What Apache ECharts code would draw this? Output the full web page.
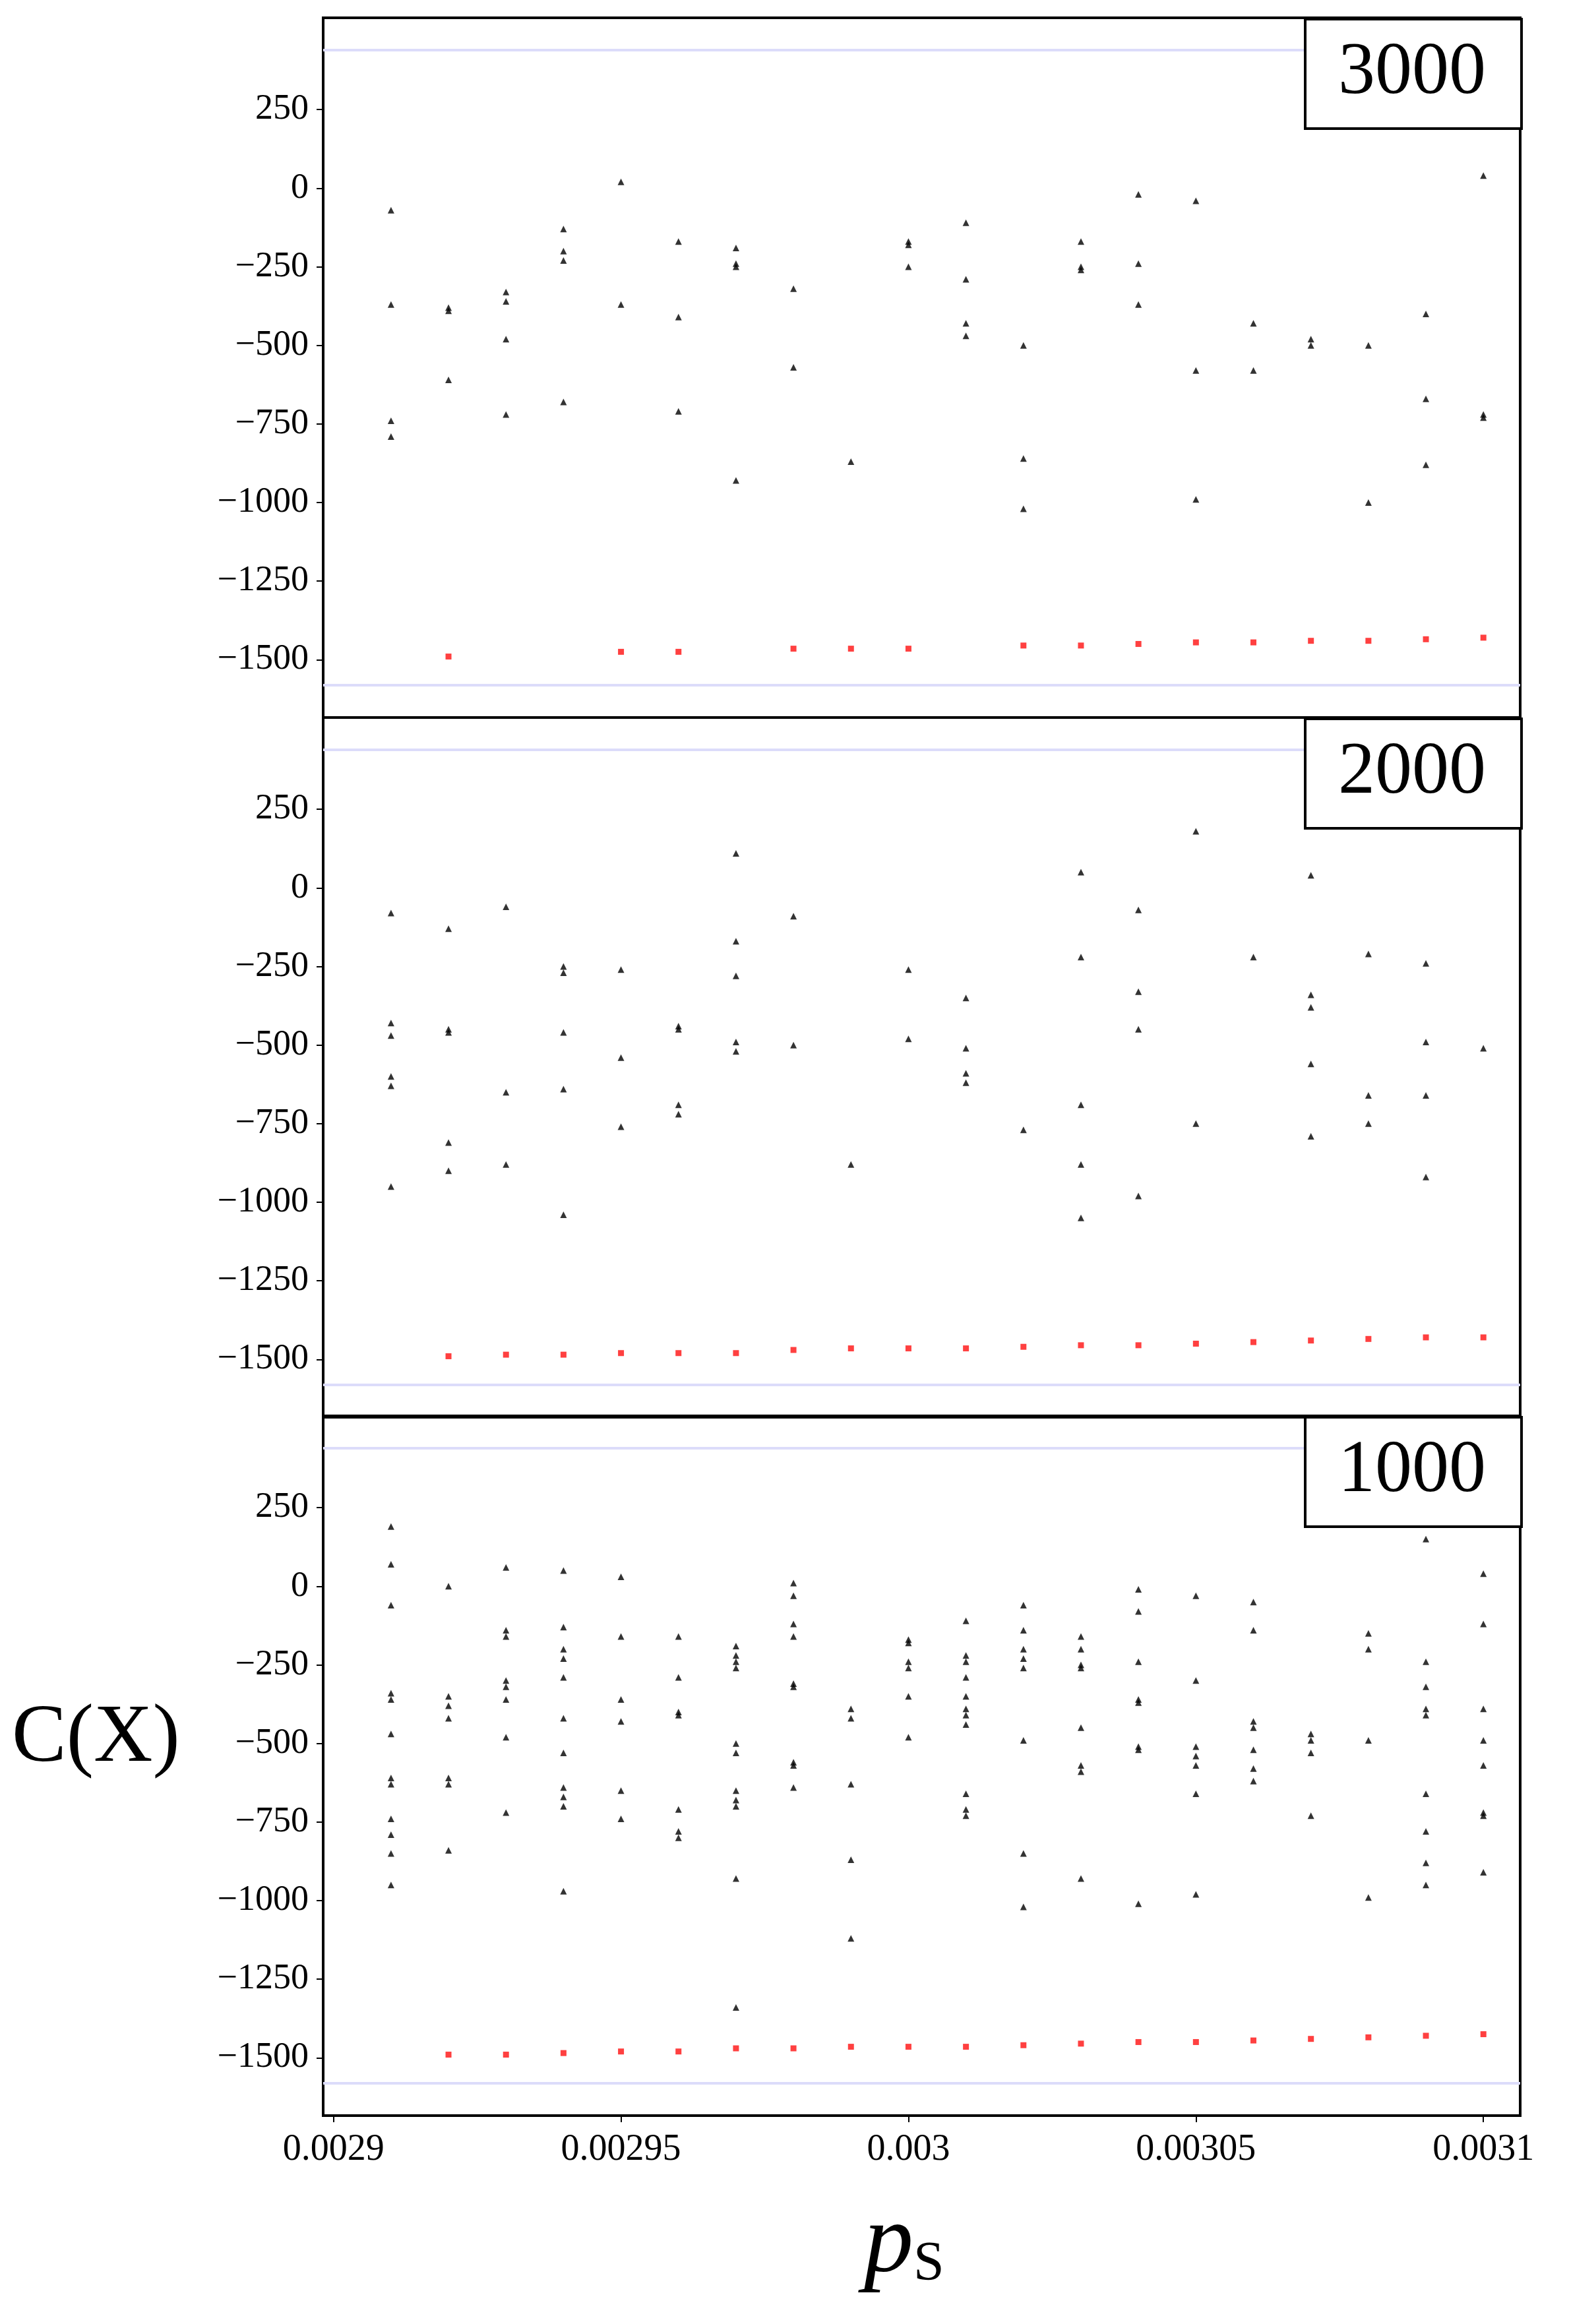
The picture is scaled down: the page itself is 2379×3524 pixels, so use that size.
<!DOCTYPE html>
<html><head><meta charset="utf-8">
<script src="https://cdn.jsdelivr.net/npm/echarts@6/dist/echarts.min.js"></script>
<style>html,body{margin:0;background:#fff}#c{width:2379px;height:3524px}</style>
</head><body><div id="c"></div>
<script>
// x positions of the sampled p_s values
let xValues = [0.00291, 0.00292, 0.00293, 0.00294, 0.00295, 0.00296, 0.00297, 0.00298, 0.00299, 0.00300,
               0.00301, 0.00302, 0.00303, 0.00304, 0.00305, 0.00306, 0.00307, 0.00308, 0.00309, 0.00310];
let panelLabels = ['3000', '2000', '1000'];
let xTickValues = [0.0029, 0.00295, 0.003, 0.00305, 0.0031];
let xTickLabels = ['0.0029', '0.00295', '0.003', '0.00305', '0.0031'];
let yTickValues = [-1500, -1250, -1000, -750, -500, -250, 0, 250];
let refLines = [440, -1580];

// black points: one list per x position
let black3000 = [
  [-70, -370, -740, -790], [-380, -390, -610], [-330, -360, -480, -720], [-130, -200, -230, -680],
  [20, -370], [-170, -410, -710], [-190, -240, -250, -930], [-320, -570], [-870], [-170, -180, -250],
  [-110, -290, -430, -470], [-500, -860, -1020], [-170, -250, -260], [-20, -240, -370], [-40, -580, -990],
  [-430, -580], [-480, -500], [-500, -1000], [-400, -670, -880], [40, -720, -730]
];
let black2000 = [
  [-80, -430, -470, -600, -630, -950], [-130, -450, -460, -810, -900], [-60, -650, -880],
  [-250, -270, -460, -640, -1040], [-260, -540, -760], [-440, -450, -690, -720], [110, -170, -280, -490, -520],
  [-90, -500], [-880], [-260, -480], [-350, -510, -590, -620], [-770], [50, -220, -690, -880, -1050],
  [-70, -330, -450, -980], [180, -750], [-220], [40, -340, -380, -560, -790], [-210, -660, -750],
  [-240, -490, -660, -920], [-510]
];
let black1000 = [
  [190, 70, -60, -340, -360, -470, -610, -630, -740, -790, -850, -950],
  [0, -350, -380, -420, -610, -630, -840],
  [60, -140, -160, -300, -320, -360, -480, -720],
  [50, -130, -200, -230, -290, -420, -530, -640, -670, -700, -970],
  [30, -160, -360, -430, -650, -740],
  [-160, -290, -400, -410, -710, -780, -800],
  [-190, -220, -240, -260, -500, -530, -650, -680, -700, -930, -1340],
  [10, -30, -120, -160, -310, -320, -560, -570, -640],
  [-390, -420, -630, -870, -1120],
  [-170, -180, -240, -260, -350, -480],
  [-110, -220, -240, -290, -350, -390, -410, -440, -660, -710, -730],
  [-60, -140, -200, -230, -260, -490, -850, -1020],
  [-160, -200, -250, -260, -450, -570, -590, -930],
  [-10, -80, -240, -360, -370, -510, -520, -1010],
  [-30, -300, -510, -540, -570, -660, -980],
  [-50, -140, -430, -450, -520, -580, -620],
  [-470, -490, -530, -730],
  [-150, -200, -490, -990],
  [150, -240, -320, -390, -410, -660, -780, -880, -950],
  [40, -120, -390, -490, -570, -720, -730, -910]
];

// red points: null where absent
let red3000 = [null, -1490, null, null, -1475, -1475, null, -1465, -1465, -1465,
               null, -1455, -1455, -1450, -1445, -1445, -1440, -1440, -1435, -1430];
let red2000 = [null, -1490, -1485, -1485, -1480, -1480, -1480, -1470, -1465, -1465,
               -1465, -1460, -1455, -1455, -1450, -1445, -1440, -1435, -1430, -1430];
let red1000 = [null, -1490, -1490, -1485, -1480, -1480, -1470, -1470, -1465, -1465,
               -1465, -1460, -1455, -1450, -1450, -1445, -1440, -1435, -1430, -1425];

let blacks = [black3000, black2000, black1000];
let reds = [red3000, red2000, red1000];

let chart = echarts.init(document.getElementById('c'));
let font = 'Liberation Serif';
let tops = [27, 1088, 2147];
let gridH = 1061;
let grids = [], xAxes = [], yAxes = [], series = [], graphics = [];

tops.forEach(function(top, i) {
  grids.push({left: 490, width: 1815, top: top, height: gridH, show: true,
              borderColor: '#000', borderWidth: 4, backgroundColor: 'transparent'});
  xAxes.push({type: 'value', gridIndex: i, min: 0.0028982, max: 0.0031064,
    splitLine: {show: false},
    axisLine: {show: false, onZero: false},
    axisTick: {show: i === 2, length: 10, lineStyle: {color: '#000', width: 2}, customValues: xTickValues},
    axisLabel: {show: i === 2, customValues: xTickValues, fontFamily: font, fontSize: 56, color: '#000', margin: 24,
      formatter: function(v) { let k = xTickValues.findIndex(t => Math.abs(t - v) < 1e-9); return k >= 0 ? xTickLabels[k] : ''; }}
  });
  yAxes.push({type: 'value', gridIndex: i, min: -1684, max: 542,
    splitLine: {show: false},
    axisLine: {show: false, onZero: false},
    axisTick: {show: true, length: 10, lineStyle: {color: '#000', width: 2}, customValues: yTickValues},
    axisLabel: {customValues: yTickValues, fontFamily: font, fontSize: 54, color: '#000', margin: 22,
      formatter: function(v) { return String(v).replace('-', '\u2212'); }}
  });
  let pts = [];
  blacks[i].forEach(function(vals, k) { vals.forEach(function(v) { pts.push([xValues[k], v]); }); });
  series.push({type: 'scatter', xAxisIndex: i, yAxisIndex: i, data: pts, symbol: 'triangle', symbolSize: 10,
    itemStyle: {color: '#000'}, silent: true,
    markLine: {silent: true, symbol: 'none', label: {show: false},
      lineStyle: {color: '#dcdcfa', width: 4, type: 'solid'},
      data: refLines.map(function(y) { return {yAxis: y}; })}
  });
  let rp = [];
  reds[i].forEach(function(v, k) { if (v !== null) rp.push([xValues[k], v]); });
  series.push({type: 'scatter', xAxisIndex: i, yAxisIndex: i, data: rp, symbol: 'rect', symbolSize: 9,
    itemStyle: {color: '#ff1010'}, silent: true});
  graphics.push({type: 'rect', left: 1977, top: top, z: 100,
    shape: {width: 328, height: 166}, style: {fill: '#fff', stroke: '#000', lineWidth: 4}});
  graphics.push({type: 'text', x: 2141, y: top + 85, z: 101,
    style: {text: panelLabels[i], font: '112px "Liberation Serif"', fill: '#000', align: 'center', verticalAlign: 'middle'}});
});

graphics.push({type: 'text', left: 18, top: 2575, z: 101,
  style: {text: 'C(X)', font: '124px "Liberation Serif"', fill: '#000'}});
graphics.push({type: 'text', left: 1310, top: 3330, z: 101,
  style: {rich: {p: {font: 'italic 150px "Liberation Serif"', fill: '#000'},
                 s: {font: '84px "Liberation Serif"', fill: '#000', padding: [60, 0, 0, 0]}},
          text: '{p|p}{s|S}'}});

chart.setOption({
  animation: false,
  grid: grids, xAxis: xAxes, yAxis: yAxes, series: series, graphic: graphics
});
</script></body></html>
